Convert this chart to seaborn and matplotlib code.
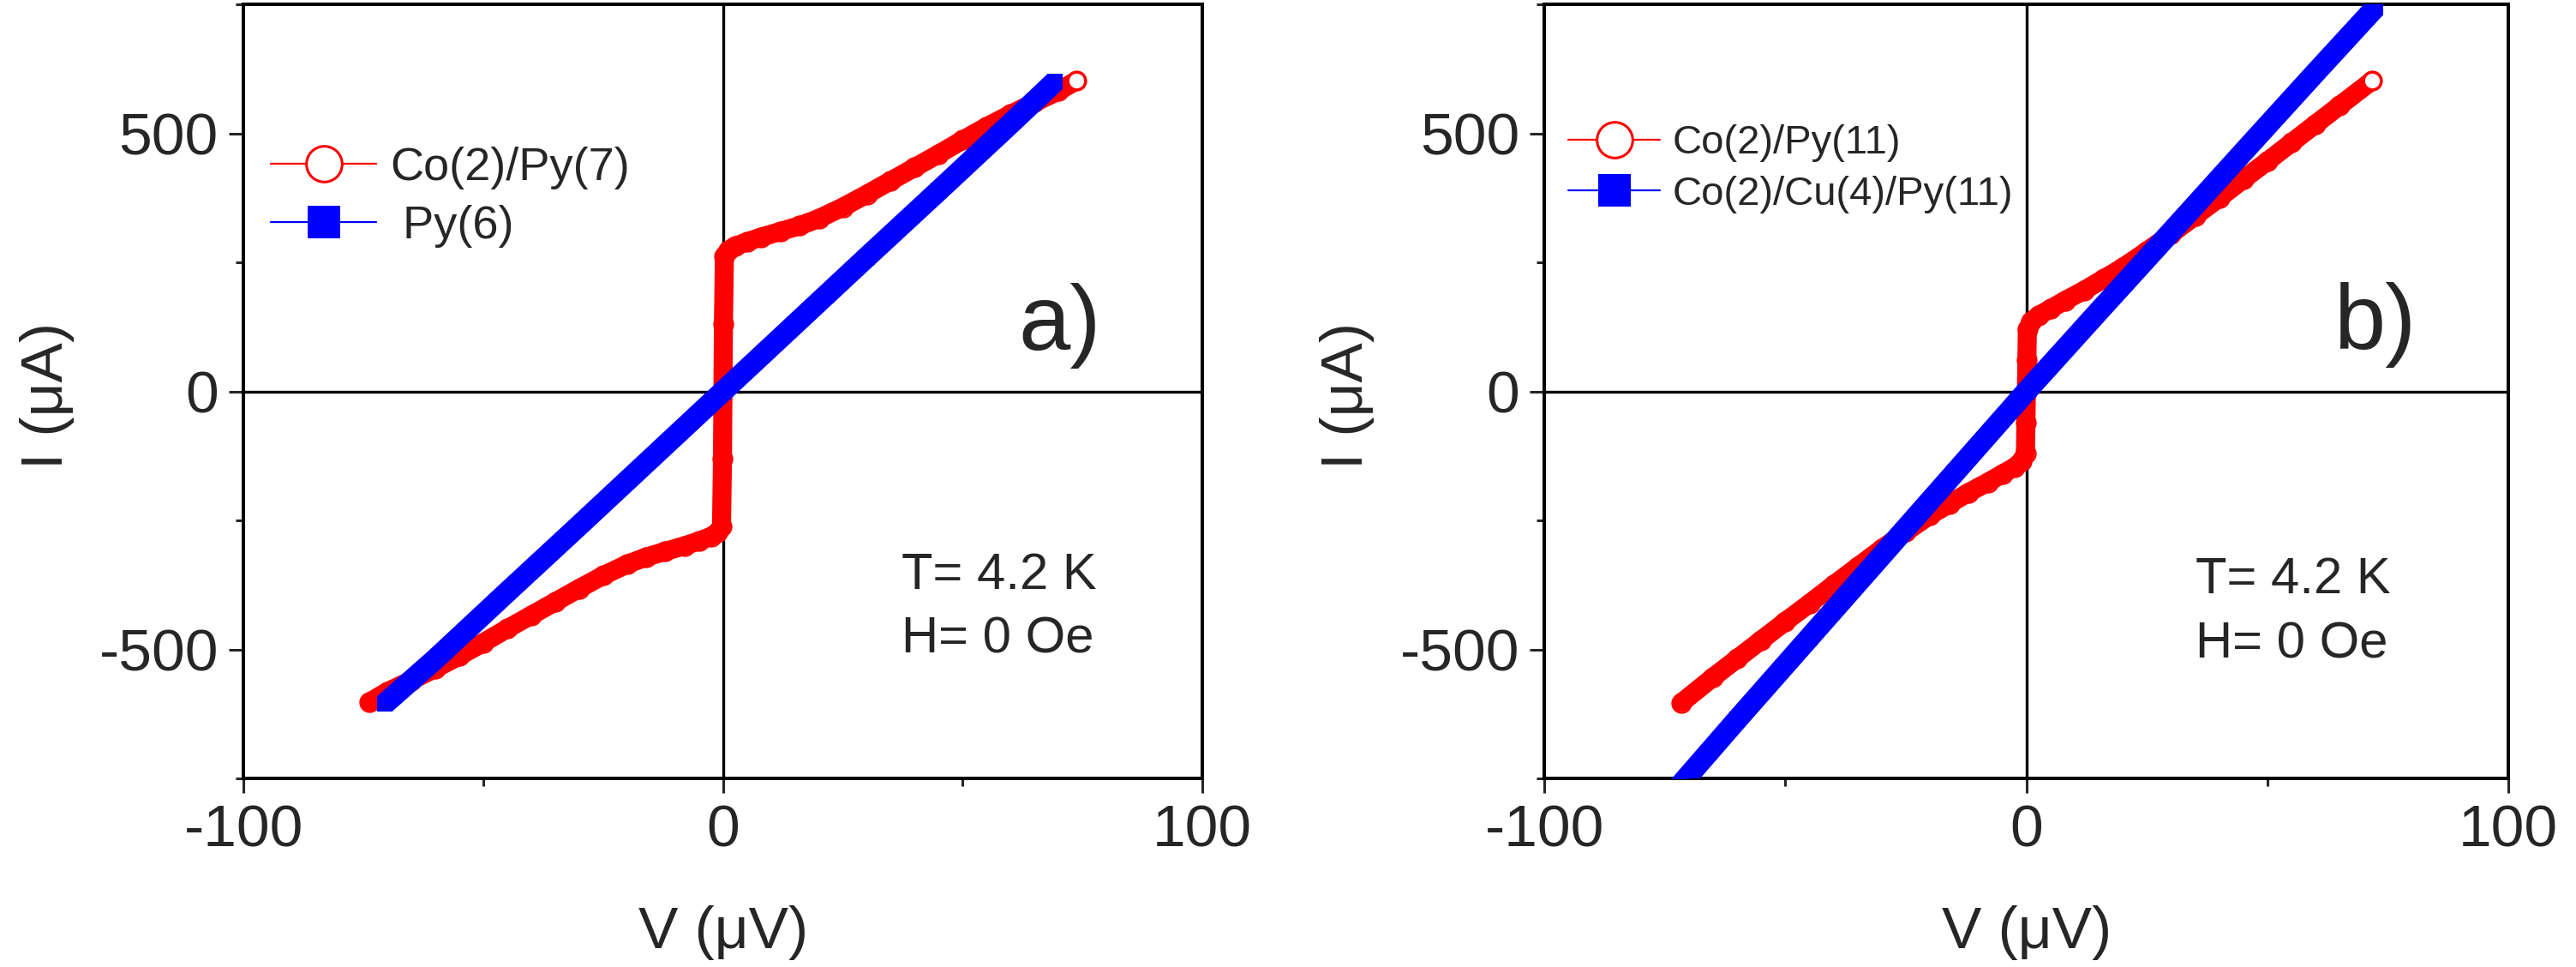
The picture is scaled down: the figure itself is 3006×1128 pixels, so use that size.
import matplotlib
matplotlib.use("Agg")
import matplotlib.pyplot as plt
from matplotlib.lines import Line2D
from matplotlib.ticker import MultipleLocator
import pandas as pd
import seaborn as sns

# panel a): Co(2)/Py(7) (red) and Py(6) (blue), V in uV, I in uA
va_red = [-73.7, -70, -65, -60, -55, -50, -45, -40, -35, -30, -25, -20, -16, -12, -8, -5, -2.5, -1.2,
          -0.3, -0.1, 0, 0.1, 0.3,
          1.2, 2.5, 5, 8, 12, 16, 20, 25, 30, 35, 40, 45, 50, 55, 60, 65, 70, 73.7]
ia_red = [-602, -582, -560, -537, -513, -487, -460, -434, -408, -382, -357, -335, -321, -310, -299, -290, -281, -274,
          -262, -130, 0, 130, 262,
          274, 281, 290, 299, 310, 321, 335, 357, 382, 408, 434, 460, 487, 513, 537, 560, 582, 602]
va_blue = [-70.5, -60, -45, -30, -15, 0, 15, 30, 45, 60, 69.2]
ia_blue = [-605, -519, -389, -260, -130, 0, 130, 260, 389, 519, 600]

# panel b): Co(2)/Py(11) (red) and Co(2)/Cu(4)/Py(11) (blue)
vb_red = [-71.5, -65, -60, -55, -50, -45, -40, -35, -30, -25, -20, -16, -12, -8, -5, -2.5, -1,
          -0.2, -0.1, 0, 0.1, 0.2,
          1, 2.5, 5, 8, 12, 16, 20, 25, 30, 35, 40, 45, 50, 55, 60, 65, 71.7]
ib_red = [-603, -554, -518, -482, -446, -411, -375, -340, -305, -272, -240, -218, -196, -176, -160, -147, -135,
          -120, -60, 0, 60, 120,
          135, 147, 160, 176, 196, 218, 240, 272, 305, 340, 375, 411, 446, 482, 518, 554, 602]
vb_blue = [-72, -60, -45, -30, -15, 0, 15, 30, 45, 60, 72.4]
ib_blue = [-765, -636, -477, -318, -159, 0, 155, 309, 464, 618, 744]

labels_a = ["Co(2)/Py(7)", " Py(6)"]
labels_b = ["Co(2)/Py(11)", "Co(2)/Cu(4)/Py(11)"]
tags = ["a)", "b)"]
cond_text = ["T= 4.2 K", "H= 0 Oe"]

sns.set_style("white")
plt.rcParams['font.family'] = ['Liberation Sans', 'DejaVu Sans']
plt.rcParams['axes.unicode_minus'] = False

fig = plt.figure(figsize=(30.06, 11.28), dpi=100)
ax_a = fig.add_axes([0.0945, 0.195, 0.3723, 0.8005])
ax_b = fig.add_axes([0.5995, 0.195, 0.3743, 0.8005])


def draw_panel(ax, v_red, i_red, v_blue, i_blue, labels, tag, tag_pos, cond_pos, leg_pos, leg_fs):
    ax.axhline(0, color="black", lw=2.4, zorder=1)
    ax.axvline(0, color="black", lw=2.4, zorder=1)

    red = pd.DataFrame({"V": v_red, "I": i_red})
    blue = pd.DataFrame({"V": v_blue, "I": i_blue})
    sns.lineplot(data=red, x="V", y="I", sort=False, estimator=None, ax=ax, color="#ff0000",
                 linewidth=16, solid_capstyle="round", solid_joinstyle="round",
                 marker="o", markersize=16, markerfacecolor="none",
                 markeredgecolor="#ff0000", markeredgewidth=1.5, zorder=2)
    ax.plot(red["V"].iloc[-1], red["I"].iloc[-1], "o", ms=14, mfc="white", mec="#ff0000",
            mew=1.6, zorder=2.5)
    sns.lineplot(data=blue, x="V", y="I", sort=False, estimator=None, ax=ax, color="#0000ff",
                 linewidth=18, solid_capstyle="butt", marker="s", markersize=13,
                 markerfacecolor="#0000ff", markeredgecolor="#0000ff", markeredgewidth=0, zorder=3)

    ax.set_xlim(-100, 100)
    ax.set_ylim(-750, 750)
    ax.xaxis.set_major_locator(MultipleLocator(100))
    ax.xaxis.set_minor_locator(MultipleLocator(50))
    ax.yaxis.set_major_locator(MultipleLocator(500))
    ax.yaxis.set_minor_locator(MultipleLocator(250))
    ax.tick_params(which="major", direction="out", length=12, width=2.2, labelsize=50, pad=9,
                   bottom=True, left=True, top=False, right=False)
    ax.tick_params(which="minor", direction="out", length=6.5, width=2.2, bottom=True, left=True)
    for s in ax.spines.values():
        s.set_linewidth(2.9)
        s.set_color("black")
        s.set_visible(True)

    ax.set_xlabel("V (\u03bcV)", fontsize=50)
    ax.set_ylabel("I (\u03bcA)", fontsize=50)
    ax.xaxis.set_label_coords(0.5, -0.164)
    ax.yaxis.set_label_coords(-0.176, 0.495)

    ax.text(tag_pos[0], tag_pos[1], tag, fontsize=78, ha="left", va="baseline")
    ax.text(cond_pos[0], cond_pos[1], cond_text[0], fontsize=43, ha="left", va="baseline")
    ax.text(cond_pos[0], cond_pos[2], cond_text[1], fontsize=43, ha="left", va="baseline")

    handles = [
        Line2D([], [], color="#ff0000", lw=1.6, marker="o", ms=30, mfc="white", mec="#ff0000", mew=2.2),
        Line2D([], [], color="#0000ff", lw=1.6, marker="s", ms=27, mfc="#0000ff", mec="#0000ff", mew=0),
    ]
    ax.legend(handles, labels, loc="upper left", bbox_to_anchor=leg_pos, frameon=False,
              fontsize=leg_fs, handlelength=2.27, handletextpad=0.3, labelspacing=0.33,
              borderpad=0, borderaxespad=0)


draw_panel(ax_a, va_red, ia_red, va_blue, ia_blue, labels_a, tags[0],
           (61.6, 80), (37.2, -383, -506), (0.0286, 0.816), 39)
draw_panel(ax_b, vb_red, ib_red, vb_blue, ib_blue, labels_b, tags[1],
           (63.7, 82), (35.0, -391, -517), (0.025, 0.845), 34)

fig.savefig("out.png", dpi=100)
